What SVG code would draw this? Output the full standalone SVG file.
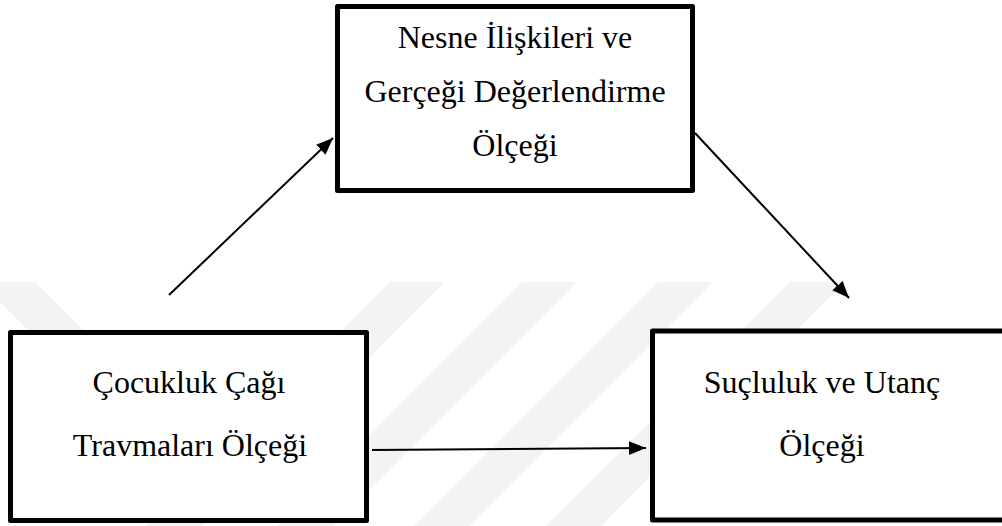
<svg xmlns="http://www.w3.org/2000/svg" width="1002" height="526" viewBox="0 0 1002 526">
  <defs>
    <style>
      .box { fill: #ffffff; stroke: #000000; stroke-width: 5; stroke-linejoin: round; }
      .lbl { font-family: "Liberation Serif", "Times New Roman", serif; font-size: 32px; fill: #000000; text-anchor: middle; }
      .conn { stroke: #000000; stroke-width: 2; fill: none; }
      .wm { fill: #f3f3f3; }
    </style>
    <marker id="ah" markerUnits="userSpaceOnUse" markerWidth="18" markerHeight="15" refX="17" refY="7" orient="auto">
      <path d="M0,0 L17,7 L0,14 z" fill="#000000"/>
    </marker>
  </defs>
  <rect width="1002" height="526" fill="#ffffff"/>
  <g id="watermark">
    <polygon class="wm" points="-20,282 35,282 130,377 75,377"/>
    <polygon class="wm" points="390,282 445,282 201,526 146,526"/>
    <polygon class="wm" points="522,282 577,282 333,526 278,526"/>
    <polygon class="wm" points="658,282 713,282 469,526 414,526"/>
    <polygon class="wm" points="790,282 845,282 601,526 546,526"/>
  </g>
  <g id="connectors">
    <line class="conn" x1="169" y1="295" x2="333" y2="138" marker-end="url(#ah)"/>
    <line class="conn" x1="695" y1="133" x2="849" y2="298" marker-end="url(#ah)"/>
    <line class="conn" x1="372" y1="450" x2="646" y2="448" stroke-width="2.5" marker-end="url(#ah)"/>
  </g>
  <g id="node-nesne">
    <rect class="box" x="337.5" y="6.5" width="355" height="184"/>
    <text class="lbl" x="515" y="48">Nesne İlişkileri ve</text>
    <text class="lbl" x="515" y="102">Gerçeği Değerlendirme</text>
    <text class="lbl" x="515" y="156">Ölçeği</text>
  </g>
  <g id="node-cocukluk">
    <rect class="box" x="10.5" y="332.5" width="356" height="188"/>
    <text class="lbl" x="189" y="393">Çocukluk Çağı</text>
    <text class="lbl" x="190" y="456">Travmaları Ölçeği</text>
  </g>
  <g id="node-sucluluk">
    <rect class="box" x="652.5" y="331" width="352" height="189"/>
    <text class="lbl" x="822" y="393">Suçluluk ve Utanç</text>
    <text class="lbl" x="822" y="456">Ölçeği</text>
  </g>
</svg>
